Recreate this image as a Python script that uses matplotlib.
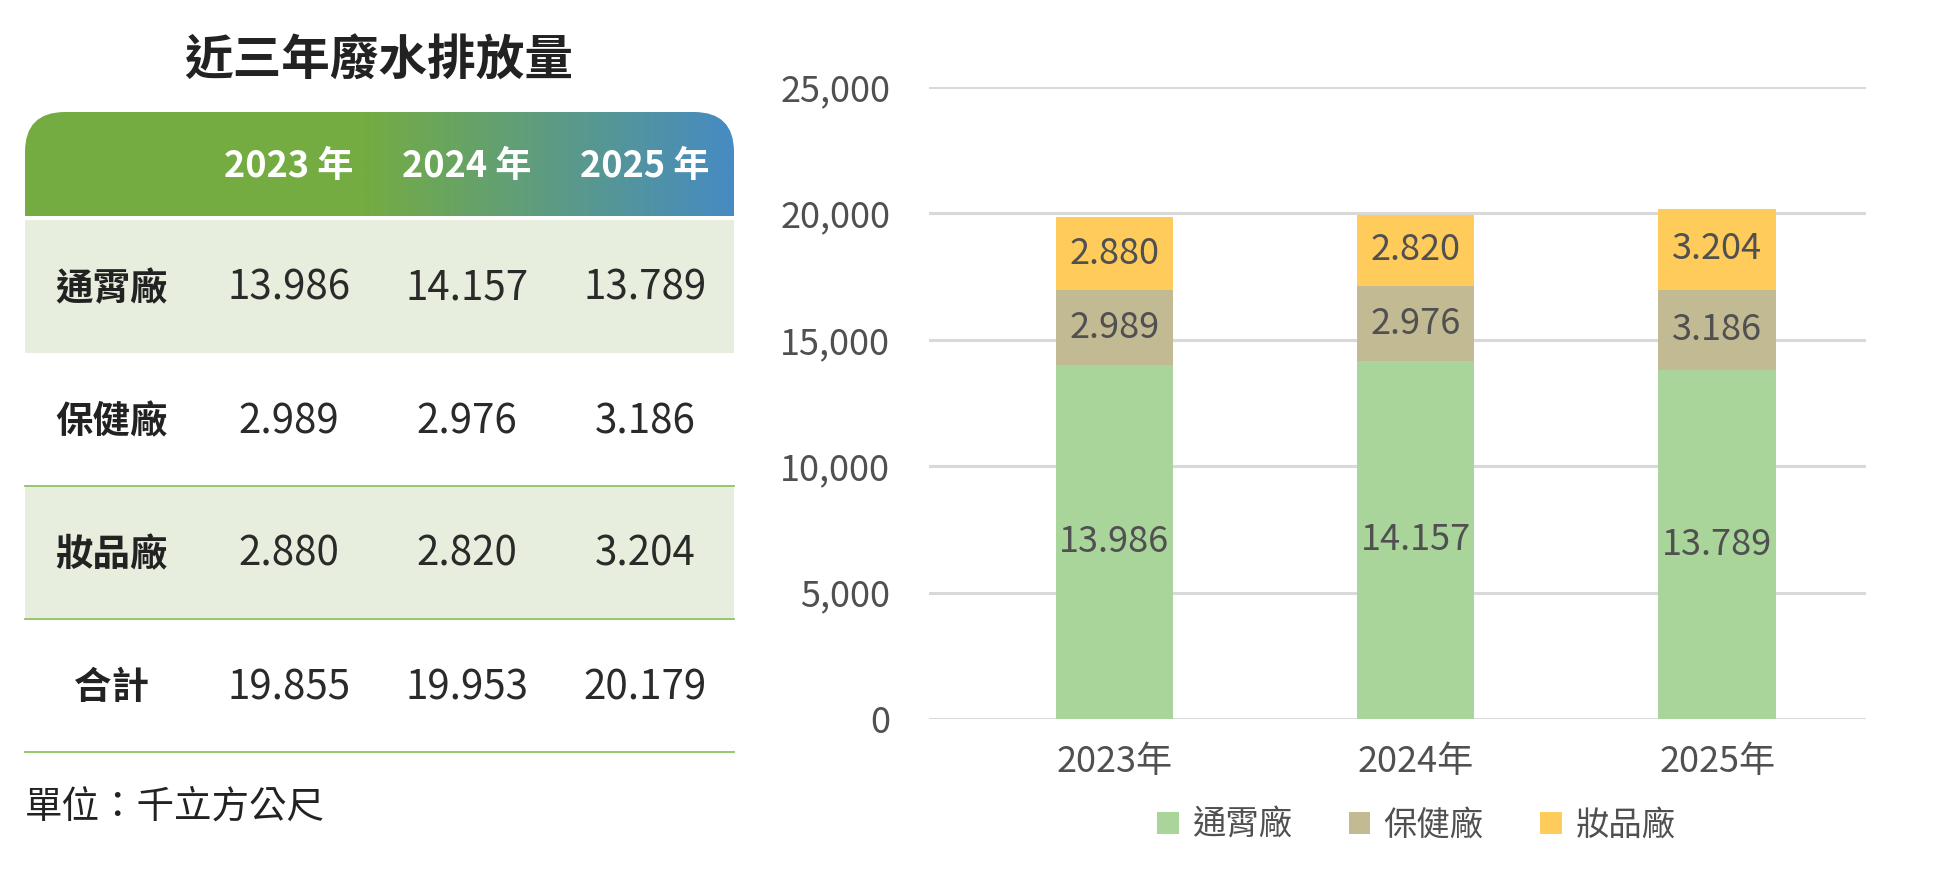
import numpy as np
import matplotlib
matplotlib.use("Agg")
import matplotlib.pyplot as plt
from matplotlib.patches import FancyBboxPatch, Rectangle
from matplotlib.ticker import FuncFormatter

plt.rcParams['font.family'] = ['Noto Sans CJK TC', 'DejaVu Sans']

# data (cubic metres, shown as thousands with "." separator)
years = ['2023年', '2024年', '2025年']
year_heads = ['2023 年', '2024 年', '2025 年']
plants = ['通霄廠', '保健廠', '妝品廠']
tongxiao = [13986, 14157, 13789]
baojian = [2989, 2976, 3186]
zhuangpin = [2880, 2820, 3204]
series = [tongxiao, baojian, zhuangpin]
totals = [sum(v) for v in zip(*series)]

colors = ['#A9D49A', '#C2BA93', '#FFCC5C']
text_grey = '#505050'


def dotted(v):
    return f"{v:,}".replace(",", ".")


fig = plt.figure(figsize=(19.4, 8.8), dpi=100)

# ---- left: table, drawn in pixel coords ----
tb = fig.add_axes([0, 0, 1, 1])
tb.set_xlim(0, 1940)
tb.set_ylim(880, 0)
tb.axis('off')

tb.text(379, 61, '近三年廢水排放量', ha='center', va='center',
        fontsize=35, fontweight='bold', color='#222222')

# header with gradient and rounded top corners
hx0, hx1, hy0, hy1 = 25, 734, 112, 216
clip = FancyBboxPatch((hx0, hy0), hx1 - hx0, hy1 - hy0 + 60,
                      boxstyle='round,pad=0,rounding_size=40',
                      transform=tb.transData, facecolor='none', edgecolor='none')
tb.add_patch(clip)
t = np.linspace(0, 1, 400)
green = np.array([0x74, 0xAC, 0x42]) / 255
blue = np.array([0x46, 0x8B, 0xC3]) / 255
mix = np.clip((t - 0.48) / 0.52, 0, 1)[:, None]
grad = (green * (1 - mix) + blue * mix)[None, :, :]
im = tb.imshow(grad, extent=(hx0, hx1, hy1, hy0), aspect='auto', zorder=1)
im.set_clip_path(clip)

col_x = [289, 467, 645]
label_x = 112
for x, h in zip(col_x, year_heads):
    tb.text(x, 166, h, ha='center', va='center', fontsize=26,
            fontweight='bold', color='white', zorder=3)

row_top = [220, 353, 486, 619]
row_h = 133
row_labels = plants + ['合計']
row_vals = series + [totals]
for i, (lab, vals) in enumerate(zip(row_labels, row_vals)):
    y0 = row_top[i]
    if i % 2 == 0:
        tb.add_patch(Rectangle((hx0, y0), hx1 - hx0, row_h, facecolor='#E7EEDD',
                               edgecolor='none', zorder=0))
    yc = y0 + row_h / 2 + 2
    tb.text(label_x, yc, lab, ha='center', va='center', fontsize=27,
            fontweight='bold', color='#222222')
    for x, v in zip(col_x, vals):
        tb.text(x, yc, dotted(v), ha='center', va='center', fontsize=29,
                fontweight=300, color='#2A2A2A')
for y in [486, 619, 752]:
    tb.plot([hx0, hx1], [y, y], color='#8DC462', lw=1.3, zorder=2)

tb.text(25, 807, '單位：千立方公尺', ha='left', va='center', fontsize=27,
        color='#222222')

# ---- right: stacked bar chart ----
ax = fig.add_axes([0.479, 0.183, 0.483, 0.718])
x = np.arange(len(years))
bottom = np.zeros(len(years))
for name, vals, c in zip(plants, series, colors):
    vals = np.array(vals)
    ax.bar(x, vals, 0.39, bottom=bottom, color=c, label=name, zorder=2)
    for xi, b, v in zip(x, bottom, vals):
        ax.text(xi, b + v / 2, dotted(int(v)), ha='center', va='center',
                fontsize=26, color=text_grey, zorder=3)
    bottom = bottom + vals

ax.set_xlim(-0.614, 2.495)
ax.set_ylim(0, 25000)
ax.set_yticks(range(0, 25001, 5000))
ax.yaxis.set_major_formatter(FuncFormatter(lambda v, p: f"{int(v):,}"))
ax.set_xticks(x)
ax.set_xticklabels(years)
ax.grid(axis='y', color='#D9D9D9', lw=2.2, zorder=0)
ax.set_axisbelow(True)
for s in ax.spines.values():
    s.set_visible(False)
ax.tick_params(axis='both', length=0, labelsize=26, colors=text_grey)
ax.tick_params(axis='y', pad=28)
ax.tick_params(axis='x', pad=18)

fig.legend(loc='center', bbox_to_anchor=(0.730, 0.062), ncol=3, frameon=False,
           fontsize=24, handlelength=0.65, handleheight=0.65, handletextpad=0.4,
           columnspacing=1.7, labelcolor=text_grey)

fig.savefig('out.png', dpi=100, facecolor='white')
